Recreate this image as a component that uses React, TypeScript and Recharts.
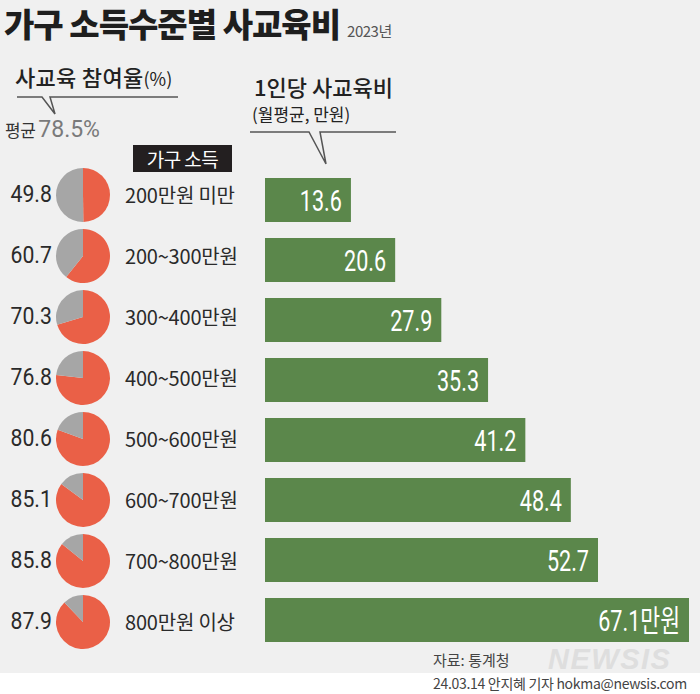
import { Bar, BarChart, Cell, LabelList, Pie, PieChart, XAxis, YAxis } from "recharts";

const incomeGroups = [
  "200만원 미만",
  "200~300만원",
  "300~400만원",
  "400~500만원",
  "500~600만원",
  "600~700만원",
  "700~800만원",
  "800만원 이상",
];
const participation = [49.8, 60.7, 70.3, 76.8, 80.6, 85.1, 85.8, 87.9];
const spending = [13.6, 20.6, 27.9, 35.3, 41.2, 48.4, 52.7, 67.1];

const NUM = 'Roboto, "Noto Sans CJK KR", sans-serif';
const KR = '"Noto Sans CJK KR", "Noto Sans", sans-serif';
const GREEN = "#5b874b";
const ORANGE = "#ea6047";
const GREY = "#a6a6a6";

const barData = incomeGroups.map((name, i) => ({
  name,
  spend: spending[i],
  label: i === spending.length - 1 ? `${spending[i]}만원` : `${spending[i]}`,
}));

// condensed white value at the end of each bar
function BarValueLabel(props: any) {
  const { x, y, width, height, value } = props;
  const right = Number(x) + Number(width) - 9;
  const cy = Number(y) + Number(height) / 2 + 1;
  return (
    <text
      transform={`translate(${right},${cy}) scale(0.72,1)`}
      textAnchor="end"
      dominantBaseline="central"
      fill="#fff"
      fontSize={30}
      fontFamily={NUM}
    >
      {value}
    </text>
  );
}

function RatePie({ rate }: { rate: number }) {
  const slices = [
    { key: "참여", value: rate },
    { key: "미참여", value: 100 - rate },
  ];
  return (
    <PieChart width={56} height={56}>
      <Pie
        data={slices}
        dataKey="value"
        startAngle={90}
        endAngle={-270}
        outerRadius={27}
        stroke="none"
        isAnimationActive={false}
      >
        <Cell fill={ORANGE} />
        <Cell fill={GREY} />
      </Pie>
    </PieChart>
  );
}

export default function App() {
  return (
    <div
      style={{
        position: "absolute",
        left: 0,
        top: 0,
        width: 700,
        height: 694,
        background: "#ffffff",
        fontFamily: KR,
        color: "#222",
        overflow: "hidden",
      }}
    >
      <div style={{ position: "absolute", left: 0, top: 0, width: 700, height: 673, background: "#f0f0f0" }} />

      {/* title */}
      <div
        style={{
          position: "absolute",
          left: 4,
          top: -1,
          fontSize: 33,
          fontWeight: 900,
          letterSpacing: -1,
          color: "#1e1e1e",
          whiteSpace: "nowrap",
        }}
      >
        가구 소득수준별 사교육비
        <span style={{ fontSize: 15, fontWeight: 400, color: "#555", marginLeft: 7, letterSpacing: -0.5 }}>2023년</span>
      </div>

      {/* left header */}
      <div style={{ position: "absolute", left: 15, top: 60, fontSize: 22, fontWeight: 500, letterSpacing: 0.3, whiteSpace: "nowrap" }}>
        사교육 참여율<span style={{ fontSize: 18, fontWeight: 400, letterSpacing: 0 }}>(%)</span>
      </div>
      <div style={{ position: "absolute", left: 5, top: 116, whiteSpace: "nowrap", display: "flex", alignItems: "baseline" }}>
        <span style={{ fontSize: 17, color: "#333", letterSpacing: -0.5 }}>평균</span>
        <span style={{ fontFamily: NUM, fontSize: 23, color: "#7a7a7a", marginLeft: 3 }}>78.5%</span>
      </div>

      {/* right header */}
      <div style={{ position: "absolute", left: 254, top: 70, fontSize: 22, fontWeight: 500, whiteSpace: "nowrap" }}>
        1인당 사교육비
      </div>
      <div style={{ position: "absolute", left: 252, top: 101, fontSize: 17, whiteSpace: "nowrap" }}>(월평균, 만원)</div>

      {/* callout lines */}
      <svg width={700} height={200} style={{ position: "absolute", left: 0, top: 0 }}>
        <polyline points="17,97 42,97 55,114 50,97 178,97" fill="none" stroke="#555" strokeWidth={1.5} />
        <polyline points="250,132 309,132 326,164 320,132 396,132" fill="none" stroke="#555" strokeWidth={1.5} />
      </svg>

      {/* 가구 소득 tag */}
      <div
        style={{
          position: "absolute",
          left: 133,
          top: 145,
          width: 99,
          height: 27,
          background: "#231f20",
          color: "#fff",
          fontSize: 19,
          lineHeight: "27px",
          textAlign: "center",
          letterSpacing: -0.5,
        }}
      >
        가구 소득
      </div>

      {/* bars */}
      <div style={{ position: "absolute", left: 0, top: 0 }}>
        <BarChart
          width={700}
          height={694}
          data={barData}
          layout="vertical"
          margin={{ top: 170, right: 11, bottom: 44, left: 265 }}
        >
          <XAxis type="number" domain={[0, 67.1]} hide />
          <YAxis
            type="category"
            dataKey="name"
            width={0}
            tick={false}
            tickLine={false}
            axisLine={{ stroke: "#444", strokeWidth: 2 }}
          />
          <Bar dataKey="spend" fill={GREEN} barSize={44} isAnimationActive={false}>
            <LabelList dataKey="label" content={BarValueLabel} />
          </Bar>
        </BarChart>
      </div>

      {/* pies with participation rate */}
      <div style={{ position: "absolute", left: 0, top: 164 }}>
        {incomeGroups.map((group, i) => (
          <div key={group} style={{ height: 61, display: "flex", alignItems: "center" }}>
            <div style={{ width: 52, textAlign: "right", fontFamily: NUM, fontSize: 23, color: "#2a2a2a" }}>
              <span style={{ display: "inline-block", transform: "scaleX(0.92)", transformOrigin: "right center" }}>
                {participation[i]}
              </span>
            </div>
            <div style={{ marginLeft: 3, width: 56, height: 56 }}>
              <RatePie rate={participation[i]} />
            </div>
            <div style={{ marginLeft: 14, fontSize: 20, color: "#2a2a2a", whiteSpace: "nowrap", letterSpacing: -0.2 }}>{group}</div>
          </div>
        ))}
      </div>

      {/* footer */}
      <div
        style={{
          position: "absolute",
          left: 548,
          top: 643,
          fontFamily: '"Liberation Sans", sans-serif',
          fontSize: 29,
          fontWeight: 700,
          fontStyle: "italic",
          color: "#dedede",
          letterSpacing: 1.5,
        }}
      >
        NEWSIS
      </div>
      <div style={{ position: "absolute", left: 433, top: 649, fontSize: 15, color: "#444", whiteSpace: "nowrap" }}>자료: 통계청</div>
      <div style={{ position: "absolute", left: 433, top: 673, fontSize: 14, color: "#444", whiteSpace: "nowrap", letterSpacing: -0.3 }}>
        24.03.14 안지혜 기자 hokma@newsis.com
      </div>
    </div>
  );
}
